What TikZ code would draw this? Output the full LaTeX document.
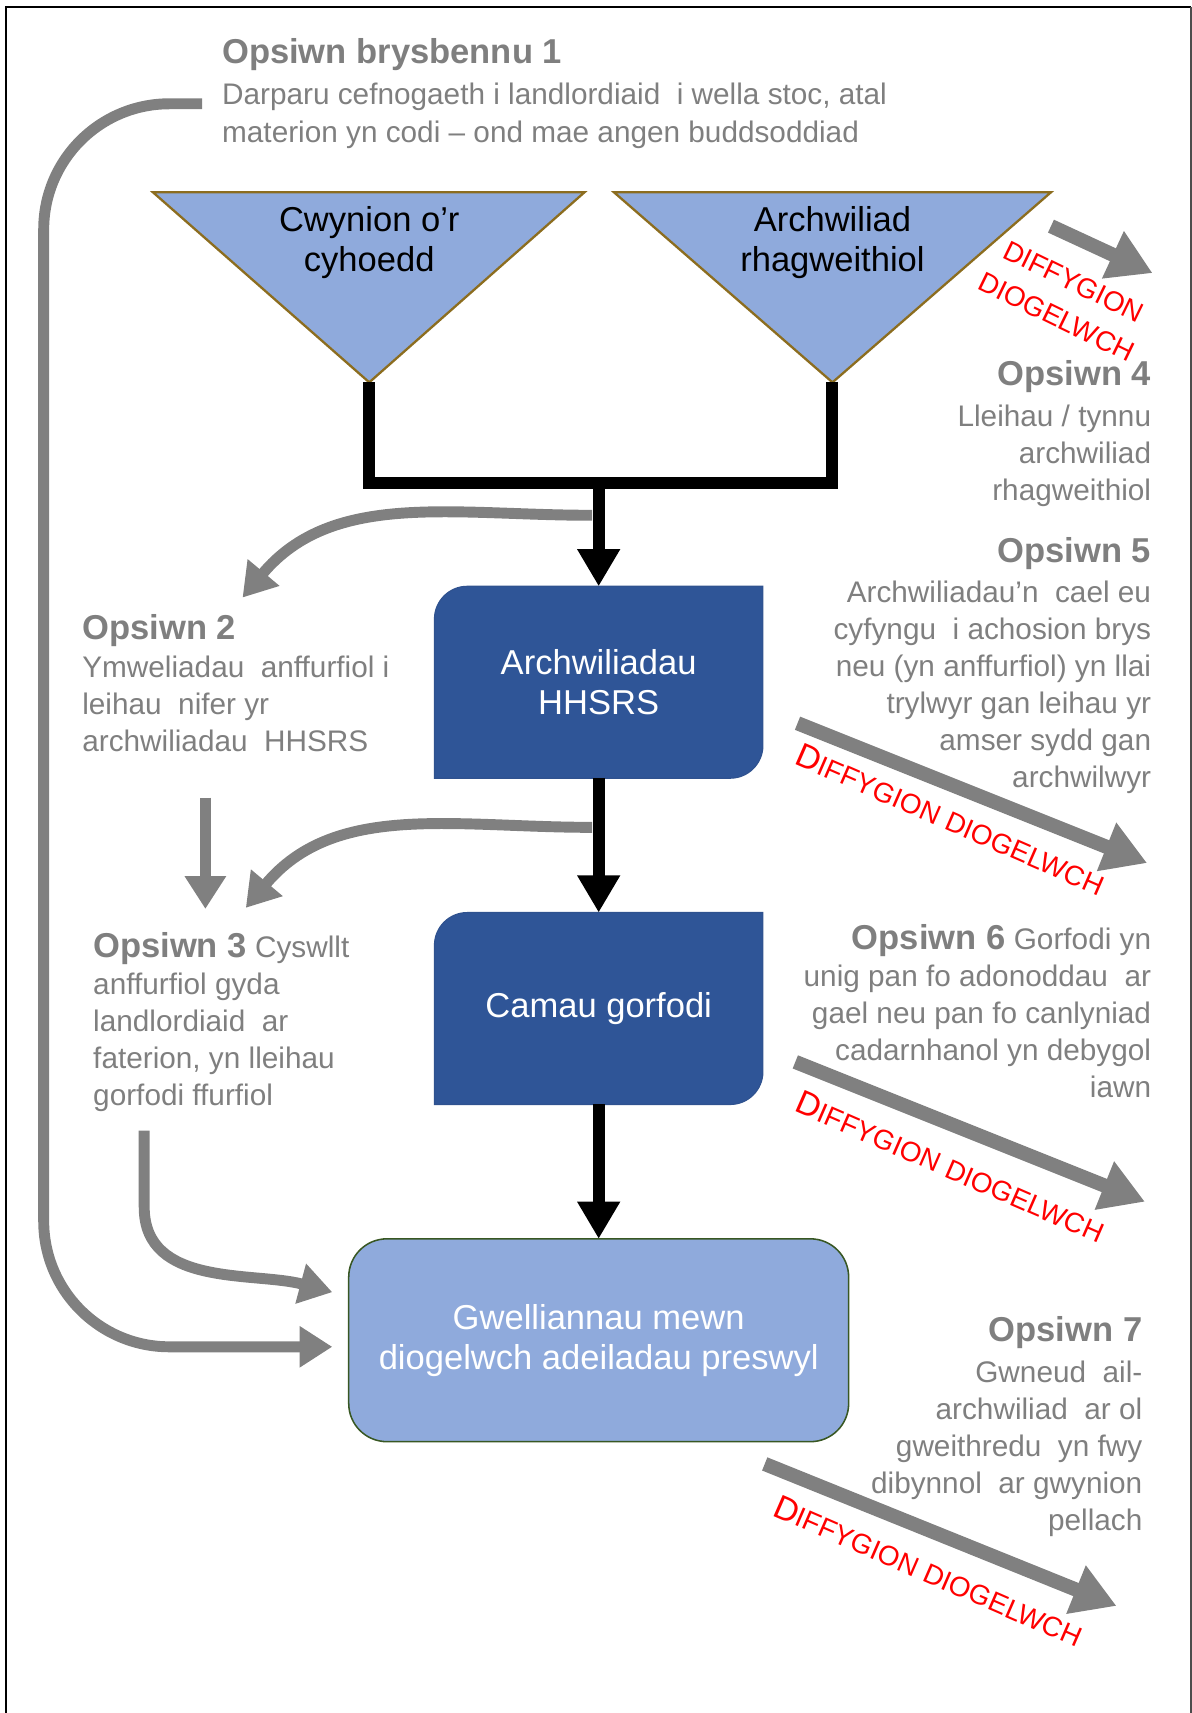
\documentclass[tikz,border=0pt]{standalone}
\usepackage{fontspec}
\setmainfont{Liberation Sans}
\usepackage{xcolor}
\usetikzlibrary{arrows.meta, positioning, backgrounds}

\definecolor{optgray}{HTML}{7F7F7F}
\definecolor{arrgray}{HTML}{808080}
\definecolor{paleblue}{HTML}{8FAADC}
\definecolor{deepblue}{HTML}{2F5597}
\definecolor{deepedge}{HTML}{2F528F}
\definecolor{tririm}{HTML}{8C6D1F}
\definecolor{greenrim}{HTML}{385723}

\newcommand{\bigD}{{\fontsize{17.5}{20}\selectfont D}}
\newcommand{\defects}{\bigD{\fontsize{14.5}{17}\selectfont IFFYGION DIOGELWCH}}

\begin{document}
\begin{tikzpicture}[
        x=0.02cm, y=-0.02cm,
        every node/.style={inner sep=0pt},
        opttitle/.style={text=optgray, font=\fontsize{18}{21}\selectfont\bfseries},
        optbody/.style={text=optgray, font=\fontsize{15.5}{19.3}\selectfont},
        trilabel/.style={font=\fontsize{18}{21}\selectfont, align=center},
        stepbox/.style={minimum width=6cm, minimum height=3.5cm, text=white, align=center, font=\fontsize{18}{21}\selectfont},
        flow/.style={line width=0.22cm, -{Triangle[length=0.68cm, width=0.74cm]}},
        greyarr/.style={draw=arrgray, line width=0.2cm, -{Triangle[length=0.6cm, width=0.72cm]}},
        lossarr/.style={draw=arrgray, line width=0.26cm, -{Triangle[length=0.8cm, width=0.9cm]}},
        defect/.style={text=red}
    ]
        \useasboundingbox (0,0) rectangle (1091,1568);
        \draw[line width=1.2pt] (5.5,1568) -- (5.5,6.5) -- (1090.5,6.5);
        \draw[line width=1pt, black!70] (1090.5,6.5) -- (1090.5,1568);

        % inputs
        \filldraw[fill=paleblue, draw=tririm, line width=1.2pt] (140,176) -- (535,176) -- (338,350) -- cycle;
        \filldraw[fill=paleblue, draw=tririm, line width=1.2pt] (562,176) -- (962,176) -- (762,350) -- cycle;
        \coordinate (tipL) at (338,350);
        \coordinate (tipR) at (762,350);
        \coordinate (join) at (548,442);
        \node[trilabel] (cwyn) at (338,222) {Cwynion o’r\\cyhoedd};
        \node[trilabel] (rhag) at (762,222) {Archwiliad\\rhagweithiol};

        % process
        \node[stepbox] (hhsrs) at (548,624.5) {Archwiliadau\\HHSRS};
        \node[stepbox, below=2.46cm of hhsrs] (gorf) {Camau gorfodi};
        \node[stepbox, minimum width=9.14cm, minimum height=3.7cm, below=2.46cm of gorf] (gwell) {Gwelliannau mewn\\diogelwch adeiladau preswyl};
        \begin{scope}[on background layer]
            \filldraw[fill=deepblue, draw=deepedge, line width=0.6pt] (hhsrs.south west) -- ([yshift=-0.6cm]hhsrs.north west) arc[start angle=180, end angle=90, radius=0.6cm] -- (hhsrs.north east) -- ([yshift=0.6cm]hhsrs.south east) arc[start angle=0, end angle=-90, radius=0.6cm] -- cycle;
            \filldraw[fill=deepblue, draw=deepedge, line width=0.6pt] (gorf.south west) -- ([yshift=-0.6cm]gorf.north west) arc[start angle=180, end angle=90, radius=0.6cm] -- (gorf.north east) -- ([yshift=0.6cm]gorf.south east) arc[start angle=0, end angle=-90, radius=0.6cm] -- cycle;
            \filldraw[fill=paleblue, draw=greenrim, line width=0.8pt, rounded corners=0.7cm] (gwell.south west) rectangle (gwell.north east);
        \end{scope}

        \draw[line width=0.22cm] (tipL) |- (join) -| (tipR);
        \draw[flow] (join) -- (hhsrs);
        \draw[flow] (hhsrs) -- (gorf);
        \draw[flow] (gorf) -- (gwell);

        % options
        \node[opttitle, anchor=west] (opt1t) at (203,50) {Opsiwn brysbennu 1};
        \node[optbody, align=left, anchor=north west] (opt1b) at (203,76) {Darparu cefnogaeth i landlordiaid\ \ i wella stoc, atal\\materion yn codi – ond mae angen buddsoddiad};
        \node[opttitle, anchor=west] (opt2t) at (75,577) {Opsiwn 2};
        \node[optbody, align=left, anchor=north west] (opt2b) at (75,600) {Ymweliadau\ \ anffurfiol i\\leihau\ \ nifer yr\\archwiliadau\ \ HHSRS};
        \node[optbody, align=left, anchor=north west] (opt3) at (85,853) {{\bfseries\fontsize{18}{19.3}\selectfont Opsiwn 3} Cyswllt\\anffurfiol gyda\\landlordiaid\ \ ar\\faterion, yn lleihau\\gorfodi ffurfiol};
        \node[opttitle, anchor=east] (opt4t) at (1054,345) {Opsiwn 4};
        \node[optbody, align=right, anchor=north east] (opt4b) at (1054,370) {Lleihau / tynnu\\archwiliad\\rhagweithiol};
        \node[opttitle, anchor=east] (opt5t) at (1054,507) {Opsiwn 5};
        \node[optbody, align=right, anchor=north east] (opt5b) at (1054,531) {Archwiliadau’n\ \ cael eu\\cyfyngu\ \ i achosion brys\\neu (yn anffurfiol) yn llai\\trylwyr gan leihau yr\\amser sydd gan\\archwilwyr};
        \node[optbody, align=right, anchor=north east] (opt6) at (1054,846) {{\bfseries\fontsize{18}{19.3}\selectfont Opsiwn 6} Gorfodi yn\\unig pan fo adonoddau\ \ ar\\gael neu pan fo canlyniad\\cadarnhanol yn debygol\\iawn};
        \node[opttitle, anchor=east] (opt7t) at (1046,1220) {Opsiwn 7};
        \node[optbody, align=right, anchor=north east] (opt7b) at (1046,1245) {Gwneud\ \ ail-\\archwiliad\ \ ar ol\\gweithredu\ \ yn fwy\\dibynnol\ \ ar gwynion\\pellach};

        % option arrows
        \coordinate (o1tail) at (185,95);
        \coordinate (o2head) at (222,547);
        \coordinate (o2foot) at (188,730);
        \coordinate (o3head) at (188,832);
        \coordinate (o3tip) at (225,831);
        \coordinate (o3foot) at (132,1035);
        \draw[greyarr] ([shift={(-6,-65)}]hhsrs.north) to[out=180, in=50] (o2head);
        \draw[greyarr] ([shift={(-6,-78)}]gorf.north) to[out=180, in=50] (o3tip);
        \draw[greyarr] (o2foot) -- (o3head);
        \draw[greyarr] (o3foot) -- ++(0,70) to[out=-90, in=165] ([shift={(-15,-44)}]gwell.west);
        \draw[greyarr, rounded corners=2.3cm] (o1tail) -- (40,95) |- ([shift={(-15,6)}]gwell.west);

        % defects
        \coordinate (d1a) at (962,207);
        \coordinate (d1b) at (1055,250);
        \coordinate (d2a) at (730,662);
        \coordinate (d2b) at (1050,790);
        \coordinate (d3a) at (728,972);
        \coordinate (d3b) at (1048,1100);
        \coordinate (d4a) at (700,1340);
        \coordinate (d4b) at (1022,1470);
        \draw[lossarr] (d1a) -- (d1b);
        \draw[lossarr] (d2a) -- (d2b);
        \draw[lossarr] (d3a) -- (d3b);
        \draw[lossarr] (d4a) -- (d4b);
        \node[defect, font=\fontsize{14.5}{20.5}\selectfont, align=center, rotate=-26] (loss1) at (975,274) {DIFFYGION\\DIOGELWCH};
        \node[defect, rotate=-23.5] (loss2) at (870,750) {\defects};
        \node[defect, rotate=-23.5] (loss3) at (870,1068) {\defects};
        \node[defect, rotate=-23.5] (loss4) at (850,1438) {\defects};
    \end{tikzpicture}
\end{document}
